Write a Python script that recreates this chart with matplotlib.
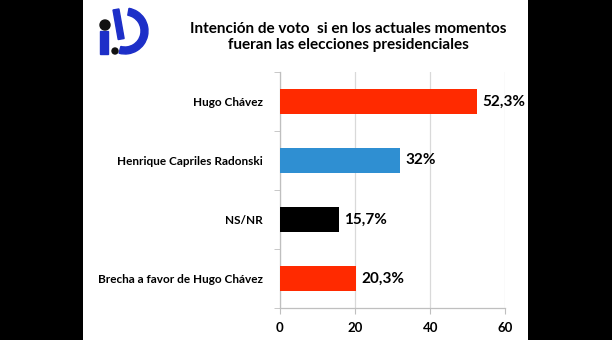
import matplotlib
matplotlib.use("Agg")
from matplotlib import pyplot as plt
from matplotlib.patches import Rectangle, Circle, Wedge
import numpy as np

# data
categories = ["Hugo Chávez", "Henrique Capriles Radonski", "NS/NR", "Brecha a favor de Hugo Chávez"]
values = [52.3, 32, 15.7, 20.3]
value_labels = ["52,3%", "32%", "15,7%", "20,3%"]
bar_colors = ["#FF2A00", "#2F8FD2", "#000000", "#FF2A00"]
xticks = [0, 20, 40, 60]
title = "Intención de voto  si en los actuales momentos\nfueran las elecciones presidenciales"

plt.rcParams['font.family'] = ['Lato', 'DejaVu Sans']

W, H = 612, 340
fig = plt.figure(figsize=(W / 100, H / 100), dpi=100, facecolor="black")

# white panel in the middle
fig.patches.append(Rectangle((83 / W, 0), (528 - 83) / W, 1, transform=fig.transFigure,
                             facecolor="white", edgecolor="none", zorder=-5))

def px(x0, y0, x1, y1):
    # pixel box -> figure fractions [left, bottom, width, height]
    return [x0 / W, 1 - y1 / H, (x1 - x0) / W, (y1 - y0) / H]

ax = fig.add_axes(px(279.6, 72, 505.5, 308))
ax.set_facecolor("none")
y = np.arange(len(categories))
ax.barh(y, values, height=0.41, color=bar_colors, zorder=3)
ax.set_xlim(0, 60)
ax.set_ylim(len(categories) - 0.5, -0.5)
ax.set_xticks(xticks)
ax.set_xticklabels([str(t) for t in xticks], fontsize=9.5, fontweight="bold")
ax.set_yticks(y)
ax.set_yticklabels(categories, fontsize=8.5, fontweight="bold")
ax.tick_params(axis="y", length=0, pad=12)
ax.set_yticks(np.arange(len(categories) + 1) - 0.5, minor=True)
ax.tick_params(axis="y", which="minor", length=4, color="#BFBFBF")
ax.tick_params(axis="x", length=4, color="#BFBFBF", pad=6)
ax.grid(axis="x", color="#D9D9D9", linewidth=0.9, zorder=0)
for s in ["top", "right"]:
    ax.spines[s].set_visible(False)
for s in ["left", "bottom"]:
    ax.spines[s].set_color("#BFBFBF")
    ax.spines[s].set_linewidth(0.9)

for yi, v, lab in zip(y, values, value_labels):
    ax.annotate(lab, (v, yi), xytext=(4, 0), textcoords="offset points",
                va="center", ha="left", fontsize=11, fontweight="bold", zorder=4)

fig.text(348 / W, 1 - 37 / H, title, ha="center", va="center", fontsize=11,
         fontweight="bold", linespacing=1.1)

# logo
lg = fig.add_axes(px(95, 3, 160, 63))
lg.set_xlim(95, 160)
lg.set_ylim(63, 3)
lg.set_aspect("equal")
lg.axis("off")
lg.add_patch(Wedge((125, 31), 23, -80, 105, width=7, color="#1D2FC8"))
lg.add_patch(Rectangle((100, 31), 8, 23, color="#1D2FC8"))
lg.add_patch(Rectangle((113, 10), 6, 30, angle=-10, color="#1D2FC8"))
lg.add_patch(Circle((105, 25), 5, color="#111111"))
lg.add_patch(Circle((115, 51), 3, color="#111111"))

fig.savefig("out.png", dpi=100, facecolor="black")
